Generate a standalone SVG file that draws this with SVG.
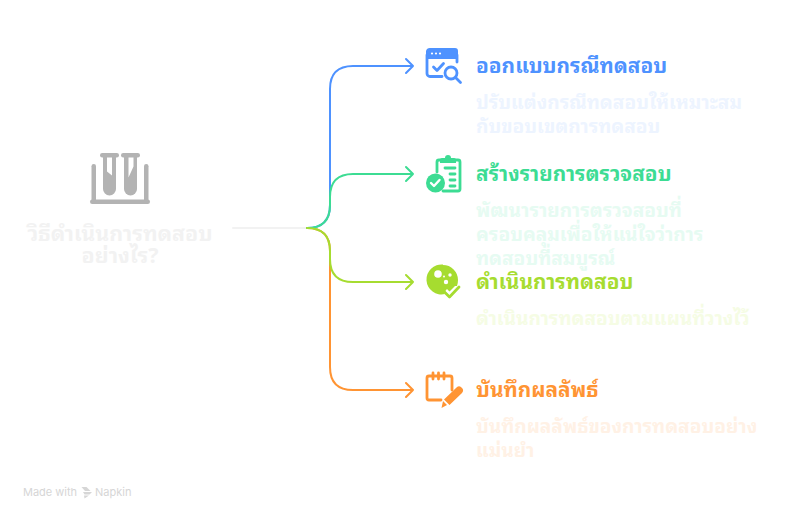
<svg xmlns="http://www.w3.org/2000/svg" width="786" height="520" viewBox="0 0 786 520">
<style>
text{font-family:"Noto Sans Thai Looped","Noto Sans Thai","Noto Sans","Liberation Sans",sans-serif;font-weight:700}
.r{font-size:21.400px}.t{font-size:20.800px}.d{font-size:19.100px}
.c{fill:none;stroke-width:2px;stroke-linecap:round;stroke-linejoin:round}
.blue{color:#4e92ff}.green{color:#3cdc93}.lime{color:#a6dc30}.orange{color:#ff9433}
.i{fill:none;stroke:currentColor;stroke-width:2.800px;stroke-linecap:round;stroke-linejoin:round}
.f{fill:currentColor;stroke:none}
.w{font-size:11px;font-weight:400;font-family:Inter,"Liberation Sans",sans-serif}
</style>
<rect width="786" height="520" fill="#ffffff"/>
<g id="connectors">
<path class="c" stroke="#f2f2f2" d="M233 228H307"/>
<path class="c" stroke="#4e92ff" d="M307 228Q330 228 330 205V89Q330 66 353 66H413M406 59L413 66L406 73"/>
<path class="c" stroke="#ff9433" d="M307 228Q330 228 330 251V367Q330 390 353 390H413M406 383L413 390L406 397"/>
<path class="c" stroke="#3cdc93" d="M307 228Q330 228 330 205V197Q330 174 353 174H413M406 167L413 174L406 181"/>
<path class="c" stroke="#a6dc30" d="M307 228Q330 228 330 251V259Q330 282 353 282H413M406 275L413 282L406 289"/>
</g>
<g id="root">
<g fill="#b3b3b3">
<rect x="90" y="199.500" width="60" height="4.500" rx="2.200"/>
<rect x="91.500" y="164" width="4.500" height="38" rx="2.200"/><rect x="144" y="164" width="4.500" height="38" rx="2.200"/>
<rect x="100" y="153" width="19" height="4.500" rx="2.200"/><rect x="121" y="153" width="19" height="4.500" rx="2.200"/>
<path d="M103 155h13v34a6.500 6.500 0 0 1-13 0Z"/>
<path d="M124 155h13v34a6.500 6.500 0 0 1-13 0Z"/>
</g>
<path fill="#fff" d="M107 157.500h5v18l-5-4ZM128.500 157.500h5v9l-5 11Z"/>
<text class="r" x="120" y="241" text-anchor="middle" fill="#f2f2f2">วิธีดำเนินการทดสอบ</text>
<text class="r" x="120" y="263" text-anchor="middle" fill="#f2f2f2">อย่างไร?</text>
</g>
<g id="n1" class="blue">
<path class="f" d="M430 48h25a3 3 0 0 1 3 3v8h-32v-8a4 4 0 0 1 4-3Z"/>
<g fill="#fff"><circle cx="432" cy="53.500" r="1.100"/><circle cx="436" cy="53.500" r="1.100"/><circle cx="440" cy="53.500" r="1.100"/></g>
<path class="i" d="M442 76.500H430a3 3 0 0 1-3-3V55M457 55v7"/>
<path class="i" d="M433.500 67l3.500 3.500 6.500-7"/>
<circle class="i" cx="451" cy="73" r="6"/><path class="i" d="M455.500 77.500L460.500 82.500"/>
<text class="t" x="476" y="73" fill="#4e92ff">ออกแบบกรณีทดสอบ</text>
<text class="d" x="476" y="109" fill="#edf4ff">ปรับแต่งกรณีทดสอบให้เหมาะสม</text>
<text class="d" x="476" y="133" fill="#edf4ff">กับขอบเขตการทดสอบ</text>
</g>
<g id="n2" class="green">
<path class="i" d="M441 160h-2a2 2 0 0 0-2 2v10" stroke-width="2"/>
<path class="i" d="M454 160h4a2 2 0 0 1 2 2v27a2 2 0 0 1-2 2h-15" stroke-width="2"/>
<path class="f" d="M442 158h3a3 3 0 0 1 6 0h3a2 2 0 0 1 2 2v3h-16v-3a2 2 0 0 1 2-2Z"/>
<path class="i" d="M445 168h10M450 174h5M450 180h5M450 186h5" stroke-width="2"/>
<circle class="f" cx="435.500" cy="183" r="9.500"/>
<path d="M431 183l3 3 5.500-6" fill="none" stroke="#fff" stroke-width="2.400" stroke-linecap="round" stroke-linejoin="round"/>
<text class="t" x="476" y="181" fill="#3cdc93">สร้างรายการตรวจสอบ</text>
<text class="d" x="476" y="217" fill="#e6fbf2">พัฒนารายการตรวจสอบที่</text>
<text class="d" x="476" y="241" fill="#e6fbf2">ครอบคลุมเพื่อให้แน่ใจว่าการ</text>
<text class="d" x="476" y="265" fill="#e6fbf2">ทดสอบที่สมบูรณ์</text>
</g>
<g id="n3" class="lime">
<path class="f" d="M443 265a15 15 0 0 1 15 15q0 3-1 6l-2 0-5.500 5.500-2.500-2.500-3 3.500 1 1.500a15 15 0 1 1-2-29.500Z"/>
<g fill="#fff"><circle cx="438" cy="274" r="3.800"/><circle cx="450" cy="275" r="1.700"/><circle cx="446" cy="282" r="2.200"/><circle cx="444" cy="276.500" r="1"/></g>
<path class="i" d="M444.500 292l5 5 9.500-10"/>
<text class="t" x="476" y="289" fill="#a6dc30">ดำเนินการทดสอบ</text>
<text class="d" x="476" y="325" fill="#f5fce4">ดำเนินการทดสอบตามแผนที่วางไว้</text>
</g>
<g id="n4" class="orange">
<path class="i" d="M441 400h-12a2 2 0 0 1-2-2V378a2 2 0 0 1 2-2h21a2 2 0 0 1 2 2v12"/>
<path class="i" d="M433 373v6M438.500 373v6M444 373v6"/>
<path class="f" d="M456 388a3.500 3.500 0 0 1 6 5L449.500 405l-5.500-5.500ZM443 401l4 4-5.500 3Z"/>
<text class="t" x="476" y="397" fill="#ff9433">บันทึกผลลัพธ์</text>
<text class="d" x="476" y="433" fill="#fff1e5">บันทึกผลลัพธ์ของการทดสอบอย่าง</text>
<text class="d" x="476" y="457" fill="#fff1e5">แม่นยำ</text>
</g>
<g id="watermark" fill="#d6d6d6">
<text class="w" x="23" y="496">Made with</text>
<path d="M81.500 487l5 0 4 4-5.500 0ZM83 492l9 0-2.500 2.500-5 0ZM84 495.500l5 0-4.500 3Z"/>
<text class="w" x="95" y="496">Napkin</text>
</g>
</svg>
